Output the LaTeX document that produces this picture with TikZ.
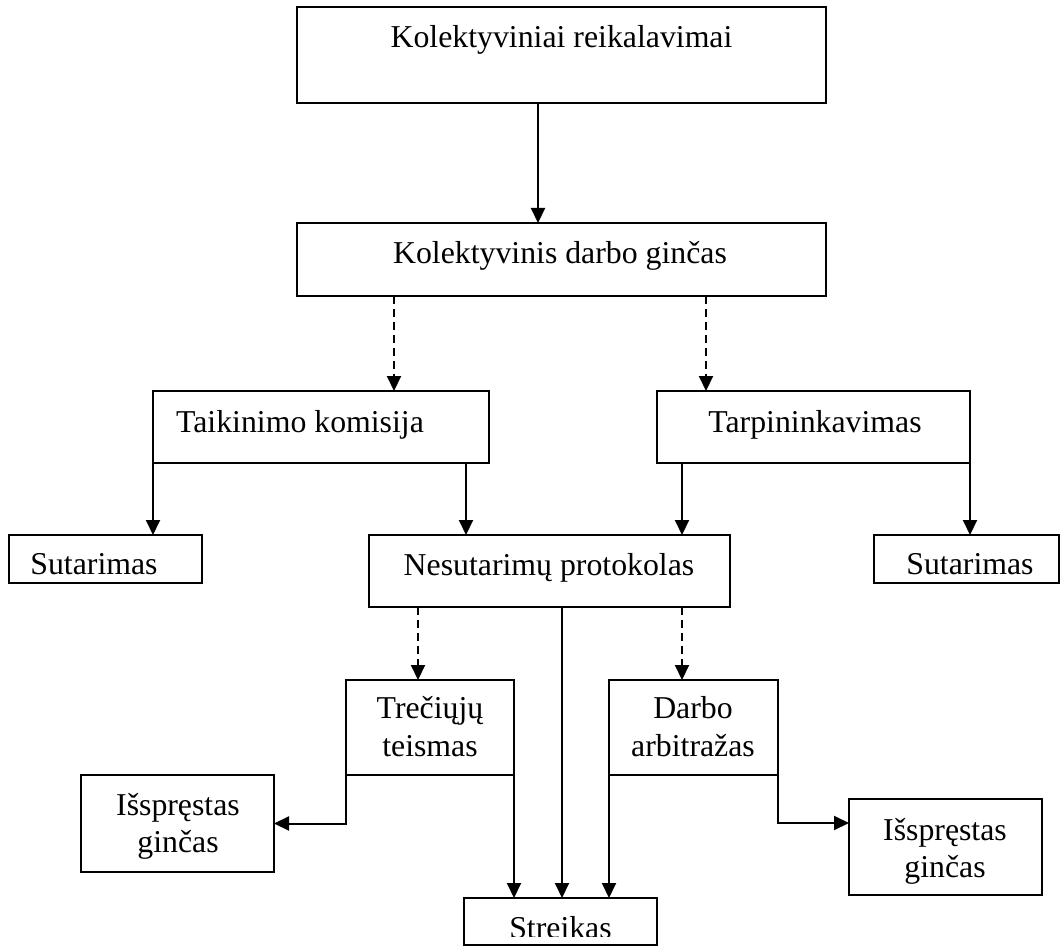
\documentclass[tikz,border=0pt]{standalone}
\usepackage{fontspec}
\setmainfont{Liberation Serif}
\usetikzlibrary{arrows.meta}
\begin{document}
\begin{tikzpicture}[x=1pt,y=-1pt,
  box/.style={draw, line width=2pt, rectangle, inner sep=0pt, outer sep=0pt},
  lbl/.style={font=\fontsize{31.8}{38}\selectfont, inner sep=0pt, anchor=base},
  arr/.style={line width=2pt, -{Triangle[length=15pt,width=14pt]}},
  darr/.style={arr, dash pattern=on 8pt off 5pt}]
\useasboundingbox[fill=white] (0,0) rectangle (1061,947);

% boxes
\node[box, minimum width=529pt, minimum height=96pt] (kr) at (561.5,55) {};
\node[box, minimum width=529pt, minimum height=73pt] (kdg) at (561.5,259.5) {};
\node[box, minimum width=336pt, minimum height=72pt] (tk) at (321,427) {};
\node[box, minimum width=313pt, minimum height=72pt] (tarp) at (813.5,427) {};
\node[box, minimum width=193pt, minimum height=48pt] (sut1) at (105.5,559) {};
\node[box, minimum width=361pt, minimum height=72pt] (np) at (549.5,571) {};
\node[box, minimum width=185pt, minimum height=48pt] (sut2) at (966.5,559) {};
\node[box, minimum width=168pt, minimum height=95pt] (tt) at (430,727.5) {};
\node[box, minimum width=169pt, minimum height=95pt] (da) at (693.5,727.5) {};
\node[box, minimum width=193pt, minimum height=97pt] (ig1) at (177.5,823.5) {};
\node[box, minimum width=193pt, minimum height=96pt] (ig2) at (945.5,847) {};
\node[box, minimum width=193pt, minimum height=47pt] (str) at (560.5,921.5) {};

% texts
\node[lbl] (krt) at (561.5,48) {Kolektyviniai reikalavimai};
\node[lbl] (kdgt) at (560,263) {Kolektyvinis darbo ginčas};
\node[lbl] (tkt) at (300,432) {Taikinimo komisija};
\node[lbl] (tarpt) at (815,432) {Tarpininkavimas};
\node[lbl] (npt) at (549,575) {Nesutarimų protokolas};
\begin{scope}
  \clip (11,537) rectangle (200,574.5);
  \node[lbl] (sut1t) at (94,574) {Sutarimas};
\end{scope}
\begin{scope}
  \clip (876,537) rectangle (1058,574.5);
  \node[lbl] (sut2t) at (970,574) {Sutarimas};
\end{scope}
\begin{scope}
  \clip (466,900) rectangle (655,936.5);
  \node[lbl] (strt) at (560.5,938) {Streikas};
\end{scope}
\node[lbl] (tt1) at (430,718) {Trečiųjų};
\node[lbl] (tt2) at (430,756) {teismas};
\node[lbl] (da1) at (693,718) {Darbo};
\node[lbl] (da2) at (693,756) {arbitražas};
\node[lbl] (ig1a) at (178,815) {Išspręstas};
\node[lbl] (ig1b) at (178,852) {ginčas};
\node[lbl] (ig2a) at (945,840) {Išspręstas};
\node[lbl] (ig2b) at (945,877) {ginčas};

% x positions of connectors
\coordinate (x538) at (538,0);
\coordinate (x394) at (394,0);
\coordinate (x706) at (706,0);
\coordinate (x466) at (466,0);
\coordinate (x682) at (682,0);
\coordinate (x418) at (418,0);
\coordinate (x562) at (562,0);
\coordinate (e2) at (778,823);

% connectors
\draw[arr] (kr.south -| x538) -- (kdg.north -| x538);
\draw[darr] (kdg.south -| x394) -- (tk.north -| x394);
\draw[darr] (kdg.south -| x706) -- (tarp.north -| x706);
\draw[arr] (tk.south west) -- (tk.south west |- sut1.north);
\draw[arr] (tk.south -| x466) -- (np.north -| x466);
\draw[arr] (tarp.south -| x682) -- (np.north -| x682);
\draw[arr] (tarp.south east) -- (tarp.south east |- sut2.north);
\draw[darr] (np.south -| x418) -- (tt.north -| x418);
\draw[darr] (np.south -| x682) -- (da.north -| x682);
\draw[arr] (np.south -| x562) -- (str.north -| x562);
\draw[arr] (tt.south west) |- (ig1.east);
\draw[arr] (tt.south east) -- (tt.south east |- str.north);
\draw[arr] (da.south west) -- (da.south west |- str.north);
\draw[arr] (da.south east) -- (e2) -- (ig2.west |- e2);
\end{tikzpicture}
\end{document}
